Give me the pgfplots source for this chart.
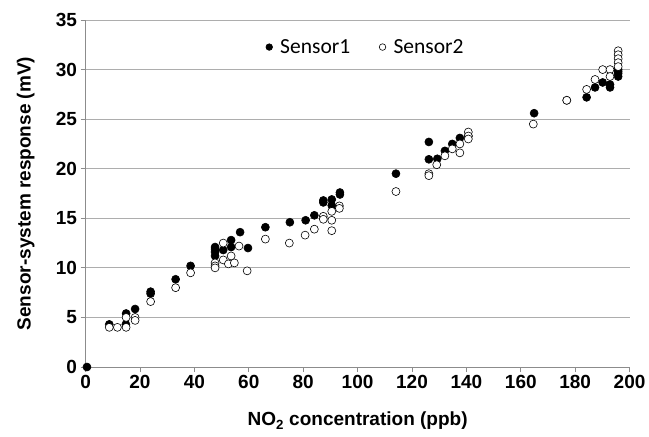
\documentclass[border=0pt]{standalone}
\usepackage{fontspec}
\setmainfont{Liberation Sans}
\newfontfamily\legfont{Carlito}
\usepackage{pgfplots}
\pgfplotsset{compat=1.18}
\begin{document}
\begin{tikzpicture}
\useasboundingbox (-85.6pt,-70pt) rectangle (563.4pt,367pt);
\begin{axis}[
  scale only axis, width=544pt, height=347pt,
  xmin=0, xmax=200, ymin=0, ymax=35,
  xtick={0,20,...,200}, ytick={0,5,...,35},
  axis x line=bottom, axis y line=left,
  axis line style={-, draw=black!45, line width=0.8pt},
  tick style={draw=black!45, line width=0.8pt},
  tick align=outside, major tick length=5pt,
  ymajorgrids, grid style={draw=black!32, line width=0.8pt},
  clip=false,
  /pgf/number format/assume math mode=true,
  tick label style={font=\fontsize{19}{19}\selectfont\bfseries},
  xlabel={NO\textsubscript{2} concentration (ppb)},
  ylabel={Sensor-system response (mV)},
  label style={font=\fontsize{19}{19}\selectfont\bfseries},
  xlabel style={at={(axis description cs:0.5,-0.1556)}, anchor=center},
  ylabel style={at={(axis description cs:-0.11,0.5)}, anchor=center},
  legend style={at={(axis description cs:0.515,0.922)}, anchor=center,
    draw=none, fill=none, font=\legfont\fontsize{21.5}{21.5}\selectfont,
    /tikz/every even column/.append style={column sep=27pt}},
  legend columns=2,
  legend image code/.code={\path[draw=none, fill=none] (0pt,0pt) -- (9pt,0pt);
    \draw[#1, mark size=3.3pt] plot coordinates {(0pt,0pt)};},
]
\addplot[only marks, mark=*, mark size=4pt, mark options={fill=black, draw=black, line width=0.6pt}]
coordinates {
(0.5,0) (8.7,4.3) (14.8,4.3) (14.9,5.4) (18.2,5.85) (23.9,7.6) (23.9,7.4)
(33.1,8.85) (38.6,10.2) (47.6,12.1) (47.6,11.9) (47.6,11.6) (47.6,11.2)
(50.6,11.8) (53.5,12.8) (53.5,12.1) (56.8,13.6) (59.7,12.0) (66.1,14.1)
(75.1,14.6) (80.9,14.8) (84.1,15.3) (87.4,16.6) (87.4,16.8) (90.5,16.9)
(90.5,16.3) (93.5,17.6) (93.5,17.4) (114.1,19.5) (126.2,22.7) (126.2,20.95)
(129.3,21.0) (132.1,21.8) (134.8,22.5) (137.6,23.1) (140.7,23.3)
(164.9,25.6) (176.9,26.9) (184.2,27.2) (187.3,28.2) (190.1,28.7)
(192.8,28.5) (192.8,28.2) (195.8,29.3) (195.8,29.6) (195.8,30.0) (195.8,29.8)
};
\addlegendentry{Sensor1}
\addplot[only marks, mark=*, mark size=4pt, mark options={fill=white, draw=black, line width=0.6pt}]
coordinates {
(8.7,4.0) (11.7,4.0) (14.9,4.0) (14.9,5.0) (18.2,5.0) (18.2,4.7) (23.9,6.6)
(33.1,8.0) (38.6,9.5) (47.6,10.5) (47.6,10.2) (47.6,10.0) (50.6,12.5)
(50.6,10.8) (53.5,11.2) (52.5,10.4) (54.7,10.5) (56.4,12.2) (59.4,9.7)
(66.1,12.9) (74.9,12.5) (80.7,13.3) (84.1,13.9) (87.4,15.2) (87.4,14.9)
(90.5,15.7) (90.5,14.8) (90.5,13.75) (93.3,16.25) (93.3,16.0) (114.1,17.7)
(126.2,19.5) (126.2,19.3) (129.1,20.4) (132.1,21.3) (134.8,22.0)
(137.6,22.5) (137.6,21.6) (140.7,23.7) (140.7,23.3) (140.7,23.0)
(164.6,24.5) (176.9,26.9) (184.2,28.0) (187.3,29.0) (190.1,30.0)
(192.8,30.0) (192.8,29.3) (195.8,31.9) (195.8,31.5) (195.8,31.1)
(195.8,30.7) (195.8,30.3)
};
\addlegendentry{Sensor2}
\end{axis}
\end{tikzpicture}
\end{document}
